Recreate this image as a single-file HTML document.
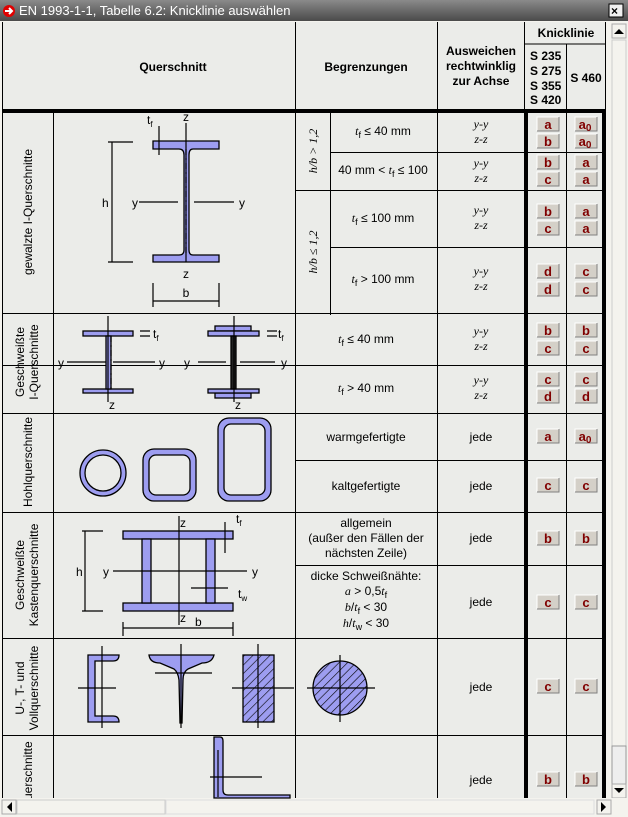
<!DOCTYPE html>
<html><head><meta charset="utf-8"><style>
body{margin:0;width:628px;height:817px;overflow:hidden;background:#f4f3ee}
svg{display:block}
text{font-family:"Liberation Sans",sans-serif;font-size:12px;fill:#000}
.b{font-weight:bold}
.s{font-family:"Liberation Serif",serif;font-style:italic;font-size:12px}
.bt{font-weight:bold;font-size:13px;fill:#800000}
</style></head><body>
<svg width="628" height="817" viewBox="0 0 628 817" xmlns="http://www.w3.org/2000/svg">
<defs>
<linearGradient id="tg" x1="0" y1="0" x2="0" y2="1"><stop offset="0" stop-color="#8a8a8a"/><stop offset="1" stop-color="#4a4a4a"/></linearGradient>
<pattern id="h" width="6" height="6" patternUnits="userSpaceOnUse" patternTransform="rotate(45)"><rect width="6" height="6" fill="#9d9df0"/><line x1="0" y1="0" x2="0" y2="6" stroke="#000" stroke-width="1.2"/></pattern>
<clipPath id="cl"><rect x="0" y="736" width="53" height="62"/></clipPath>
<g id="btn"><rect x="0" y="0" width="22" height="14" fill="#d4d0c8"/><path d="M0 14V0H22" stroke="#fff" fill="none"/><path d="M22 0V14H0" stroke="#808080" fill="none"/></g>
</defs>
<rect x="0" y="0" width="628" height="21" fill="url(#tg)"/>
<circle cx="9" cy="11" r="6" fill="#e00000"/><path d="M5 11h6M9 8l3 3-3 3" stroke="#fff" stroke-width="2" fill="none"/>
<text x="19" y="15" style="fill:#fff;font-size:13px">EN 1993-1-1, Tabelle 6.2: Knicklinie auswählen</text>
<rect x="609" y="4" width="14" height="13" fill="#f0f0f0" stroke="#000"/><text x="611" y="15" class="b" style="font-size:12px">×</text>
<rect x="2" y="22" width="604" height="776" fill="#ebece9"/>
<rect x="612" y="22" width="16" height="776" fill="#f4f3ee"/>
<rect x="612" y="24" width="14" height="14" fill="#f4f3ee" stroke="#aaa"/><path d="M614 34h10l-5-5z" fill="#000"/>
<rect x="612" y="40" width="14" height="706" fill="#f4f3ee" stroke="#ccc"/>
<rect x="612" y="746" width="14" height="38" fill="#eee" stroke="#999"/>
<rect x="612" y="784" width="14" height="14" fill="#f4f3ee" stroke="#aaa"/><path d="M614 788h10l-5 5z" fill="#000"/>
<rect x="0" y="798" width="628" height="19" fill="#f4f3ee"/>
<rect x="2" y="800" width="14" height="14" fill="#f4f3ee" stroke="#aaa"/><path d="M12 802v10l-5-5z" fill="#000"/>
<rect x="17" y="800" width="148" height="14" fill="#f4f3ee" stroke="#ccc"/>
<rect x="166" y="800" width="428" height="14" fill="#f4f3ee" stroke="#ddd"/>
<rect x="597" y="800" width="14" height="14" fill="#f4f3ee" stroke="#aaa"/><path d="M601 802v10l5-5z" fill="#000"/>
<g stroke="#000" stroke-width="1" fill="none">
<path d="M2.5 22V798M53.5 110V798M295.5 22V798M330.5 110V315M437.5 22V798M524.5 22V110M566.5 44V798M605.5 22V110M524 44H606"/>
<path d="M2 313.5H606M2 365.5H606M2 413.5H606M295 460.5H606M2 512.5H606M295 565.5H606M2 638.5H606M2 735.5H606"/>
<path d="M330 152.5H606M295 190.5H606M330 247.5H606M292 413.5H300"/>
</g>
<rect x="2" y="109" width="604" height="4" fill="#000"/>
<rect x="524" y="110" width="4" height="688" fill="#000"/>
<rect x="602" y="110" width="4" height="688" fill="#000"/>
<text x="173" y="71" class="b" text-anchor="middle">Querschnitt</text>
<text x="366" y="71" class="b" text-anchor="middle">Begrenzungen</text>
<text x="481" y="55" class="b" text-anchor="middle">Ausweichen</text>
<text x="481" y="70" class="b" text-anchor="middle">rechtwinklig</text>
<text x="481" y="85" class="b" text-anchor="middle">zur Achse</text>
<text x="566" y="37" class="b" text-anchor="middle">Knicklinie</text>
<text x="530" y="60" class="b">S 235</text><text x="530" y="75" class="b">S 275</text><text x="530" y="90" class="b">S 355</text><text x="530" y="104" class="b">S 420</text>
<text x="586" y="82" class="b" text-anchor="middle">S 460</text>
<text transform="translate(32,212) rotate(-90)" text-anchor="middle">gewalzte I-Querschnitte</text>
<text transform="translate(24,362) rotate(-90)" text-anchor="middle">Geschweißte</text>
<text transform="translate(38,362) rotate(-90)" text-anchor="middle">I-Querschnitte</text>
<text transform="translate(32,462) rotate(-90)" text-anchor="middle">Hohlquerschnitte</text>
<text transform="translate(24,575) rotate(-90)" text-anchor="middle">Geschweißte</text>
<text transform="translate(38,575) rotate(-90)" text-anchor="middle">Kastenquerschnitte</text>
<text transform="translate(24,688) rotate(-90)" text-anchor="middle">U-, T- und</text>
<text transform="translate(38,688) rotate(-90)" text-anchor="middle">Vollquerschnitte</text>
<g clip-path="url(#cl)"><text transform="translate(32,792) rotate(-90)" text-anchor="middle">Winkelquerschnitte</text></g>
<text transform="translate(317,151) rotate(-90)" class="s" style="font-size:12px" text-anchor="middle">h/b &gt; 1,2</text>
<text transform="translate(317,252) rotate(-90)" class="s" style="font-size:12px" text-anchor="middle">h/b ≤ 1,2</text>
<text x="383" y="135" text-anchor="middle"><tspan class="s">t</tspan><tspan font-size="9" dy="3">f</tspan><tspan dy="-3"> ≤ 40 mm</tspan></text>
<text x="383" y="174" text-anchor="middle">40 mm &lt; <tspan class="s">t</tspan><tspan font-size="9" dy="3">f</tspan><tspan dy="-3"> ≤ 100</tspan></text>
<text x="383" y="222" text-anchor="middle"><tspan class="s">t</tspan><tspan font-size="9" dy="3">f</tspan><tspan dy="-3"> ≤ 100 mm</tspan></text>
<text x="383" y="283" text-anchor="middle"><tspan class="s">t</tspan><tspan font-size="9" dy="3">f</tspan><tspan dy="-3"> &gt; 100 mm</tspan></text>
<text x="366" y="343" text-anchor="middle"><tspan class="s">t</tspan><tspan font-size="9" dy="3">f</tspan><tspan dy="-3"> ≤ 40 mm</tspan></text>
<text x="366" y="392" text-anchor="middle"><tspan class="s">t</tspan><tspan font-size="9" dy="3">f</tspan><tspan dy="-3"> &gt; 40 mm</tspan></text>
<text x="366" y="441" text-anchor="middle">warmgefertigte</text>
<text x="366" y="490" text-anchor="middle">kaltgefertigte</text>
<text x="366" y="527" text-anchor="middle">allgemein</text>
<text x="366" y="542" text-anchor="middle">(außer den Fällen der</text>
<text x="366" y="557" text-anchor="middle">nächsten Zeile)</text>
<text x="366" y="580" text-anchor="middle">dicke Schweißnähte:</text>
<text x="366" y="595" text-anchor="middle"><tspan class="s">a</tspan> &gt; 0,5<tspan class="s">t</tspan><tspan font-size="9" dy="3">f</tspan></text>
<text x="366" y="611" text-anchor="middle"><tspan class="s">b</tspan>/<tspan class="s">t</tspan><tspan font-size="9" dy="3">f</tspan><tspan dy="-3">  &lt; 30</tspan></text>
<text x="366" y="627" text-anchor="middle"><tspan class="s">h</tspan>/<tspan class="s">t</tspan><tspan font-size="9" dy="3">w</tspan><tspan dy="-3">  &lt; 30</tspan></text>
<g text-anchor="middle">
<text x="481" y="128" class="s">y-y</text><text x="481" y="143" class="s">z-z</text>
<text x="481" y="167" class="s">y-y</text><text x="481" y="182" class="s">z-z</text>
<text x="481" y="214" class="s">y-y</text><text x="481" y="229" class="s">z-z</text>
<text x="481" y="275" class="s">y-y</text><text x="481" y="290" class="s">z-z</text>
<text x="481" y="335" class="s">y-y</text><text x="481" y="350" class="s">z-z</text>
<text x="481" y="384" class="s">y-y</text><text x="481" y="399" class="s">z-z</text>
</g>
<g text-anchor="middle">
<text x="481" y="441">jede</text><text x="481" y="490">jede</text><text x="481" y="542">jede</text><text x="481" y="606">jede</text><text x="481" y="691">jede</text><text x="481" y="784">jede</text>
</g>
<g>
<use href="#btn" x="537" y="117"/><text x="548" y="129" class="bt" text-anchor="middle">a</text>
<use href="#btn" x="575" y="117"/><text x="585" y="129" class="bt" text-anchor="middle">a<tspan font-size="10" dy="2">0</tspan></text>
<use href="#btn" x="537" y="134"/><text x="548" y="146" class="bt" text-anchor="middle">b</text>
<use href="#btn" x="575" y="134"/><text x="585" y="146" class="bt" text-anchor="middle">a<tspan font-size="10" dy="2">0</tspan></text>
<use href="#btn" x="537" y="155"/><text x="548" y="167" class="bt" text-anchor="middle">b</text>
<use href="#btn" x="575" y="155"/><text x="586" y="167" class="bt" text-anchor="middle">a</text>
<use href="#btn" x="537" y="172"/><text x="548" y="184" class="bt" text-anchor="middle">c</text>
<use href="#btn" x="575" y="172"/><text x="586" y="184" class="bt" text-anchor="middle">a</text>
<use href="#btn" x="537" y="204"/><text x="548" y="216" class="bt" text-anchor="middle">b</text>
<use href="#btn" x="575" y="204"/><text x="586" y="216" class="bt" text-anchor="middle">a</text>
<use href="#btn" x="537" y="221"/><text x="548" y="233" class="bt" text-anchor="middle">c</text>
<use href="#btn" x="575" y="221"/><text x="586" y="233" class="bt" text-anchor="middle">a</text>
<use href="#btn" x="537" y="264"/><text x="548" y="276" class="bt" text-anchor="middle">d</text>
<use href="#btn" x="575" y="264"/><text x="586" y="276" class="bt" text-anchor="middle">c</text>
<use href="#btn" x="537" y="282"/><text x="548" y="294" class="bt" text-anchor="middle">d</text>
<use href="#btn" x="575" y="282"/><text x="586" y="294" class="bt" text-anchor="middle">c</text>
<use href="#btn" x="537" y="323"/><text x="548" y="335" class="bt" text-anchor="middle">b</text>
<use href="#btn" x="575" y="323"/><text x="586" y="335" class="bt" text-anchor="middle">b</text>
<use href="#btn" x="537" y="341"/><text x="548" y="353" class="bt" text-anchor="middle">c</text>
<use href="#btn" x="575" y="341"/><text x="586" y="353" class="bt" text-anchor="middle">c</text>
<use href="#btn" x="537" y="372"/><text x="548" y="384" class="bt" text-anchor="middle">c</text>
<use href="#btn" x="575" y="372"/><text x="586" y="384" class="bt" text-anchor="middle">c</text>
<use href="#btn" x="537" y="389"/><text x="548" y="401" class="bt" text-anchor="middle">d</text>
<use href="#btn" x="575" y="389"/><text x="586" y="401" class="bt" text-anchor="middle">d</text>
<use href="#btn" x="537" y="429"/><text x="548" y="441" class="bt" text-anchor="middle">a</text>
<use href="#btn" x="575" y="429"/><text x="585" y="441" class="bt" text-anchor="middle">a<tspan font-size="10" dy="2">0</tspan></text>
<use href="#btn" x="537" y="478"/><text x="548" y="490" class="bt" text-anchor="middle">c</text>
<use href="#btn" x="575" y="478"/><text x="586" y="490" class="bt" text-anchor="middle">c</text>
<use href="#btn" x="537" y="531"/><text x="548" y="543" class="bt" text-anchor="middle">b</text>
<use href="#btn" x="575" y="531"/><text x="586" y="543" class="bt" text-anchor="middle">b</text>
<use href="#btn" x="537" y="595"/><text x="548" y="607" class="bt" text-anchor="middle">c</text>
<use href="#btn" x="575" y="595"/><text x="586" y="607" class="bt" text-anchor="middle">c</text>
<use href="#btn" x="537" y="679"/><text x="548" y="691" class="bt" text-anchor="middle">c</text>
<use href="#btn" x="575" y="679"/><text x="586" y="691" class="bt" text-anchor="middle">c</text>
<use href="#btn" x="537" y="772"/><text x="548" y="784" class="bt" text-anchor="middle">b</text>
<use href="#btn" x="575" y="772"/><text x="586" y="784" class="bt" text-anchor="middle">b</text>
</g>
<g stroke="#000" stroke-width="1.3" fill="#9d9df0">
<path d="M153 141H219V149H193Q189 149 189 155V250Q189 255 193 255H219V262H153V255H179Q184 255 184 250V155Q184 149 179 149H153Z"/>
<rect x="83" y="331" width="50" height="5"/><rect x="83" y="389" width="50" height="4"/><rect x="106" y="336" width="5" height="53"/>
<rect x="215" y="326" width="36" height="5"/><rect x="215" y="393" width="36" height="5"/>
<rect x="208" y="331" width="51" height="5"/><rect x="208" y="389" width="51" height="4"/><rect x="231" y="336" width="5" height="53" fill="#222"/>
<circle cx="103" cy="473" r="23"/><circle cx="103" cy="473" r="18" fill="#ebece9"/>
<rect x="143" y="449" width="53" height="52" rx="11"/><rect x="149" y="455" width="41" height="40" rx="7" fill="#ebece9"/>
<rect x="218" y="418" width="53" height="83" rx="11"/><rect x="224" y="424" width="41" height="71" rx="7" fill="#ebece9"/>
<rect x="123" y="531" width="110" height="8"/><rect x="123" y="603" width="110" height="8"/>
<rect x="142" y="539" width="9" height="64"/><rect x="206" y="539" width="9" height="64"/>
<path d="M88 655H119Q119 661 113 661H95V716H113Q119 716 119 722H88Z"/>
<path d="M149 655H214Q212 663 202 663L188 669Q183 672 183 680L182 723H180L179 680Q178 672 174 669L160 663Q150 663 149 655Z"/>
<rect x="243" y="655" width="31" height="67" fill="url(#h)"/>
<circle cx="340" cy="688" r="27" fill="url(#h)"/>
<path d="M214 737H220Q223 737 223 741V790Q223 795 228 795H290V798H214Z"/>
</g>
<g stroke="#000" stroke-width="1.2" fill="none">
<path d="M186 123V262M139 202H178M194 202H234M112 142V262M108 142H133M108 262H133M153 283V307M219 283V307M153 301H219M159 126V155"/>
<path d="M108 316V402M67 362H106M113 362H155M140 331H150M140 336H150M234 316V402M198 362H226M240 362H275M267 331H277M267 336H277"/>
<path d="M179 516V625M113 571H247M85 531V611M82 531H103M82 611H103M123 622V636M233 622V636M123 628H233M225 522V553M191 588H228"/>
<path d="M102 646V728M78 688H116M181 644V728M155 673H212M258 644V728M232 688H294M340 655V722M307 688H375"/>
<path d="M218 750V797M210 777H262"/>
</g>
<g stroke="#000" stroke-width="1.2" stroke-dasharray="6,3,2,3">
<path d="M186 149V255M111 336V389"/>
</g>
<text x="186" y="121" text-anchor="middle">z</text><text x="186" y="278" text-anchor="middle">z</text>
<text x="147" y="124">t<tspan font-size="8" dy="3">f</tspan></text>
<text x="102" y="207">h</text><text x="132" y="207">y</text><text x="239" y="207">y</text><text x="186" y="297" text-anchor="middle">b</text>
<text x="58" y="367">y</text><text x="159" y="367">y</text><text x="109" y="409">z</text>
<text x="184" y="367">y</text><text x="281" y="367">y</text><text x="235" y="409">z</text>
<text x="153" y="338">t<tspan font-size="8" dy="3">f</tspan></text><text x="278" y="338">t<tspan font-size="8" dy="3">f</tspan></text>
<text x="180" y="527">z</text><text x="180" y="622">z</text><text x="236" y="523">t<tspan font-size="8" dy="3">f</tspan></text>
<text x="76" y="576">h</text><text x="103" y="576">y</text><text x="252" y="576">y</text><text x="195" y="626">b</text>
<text x="238" y="598">t<tspan font-size="8" dy="3">w</tspan></text>
</svg>
</body></html>
